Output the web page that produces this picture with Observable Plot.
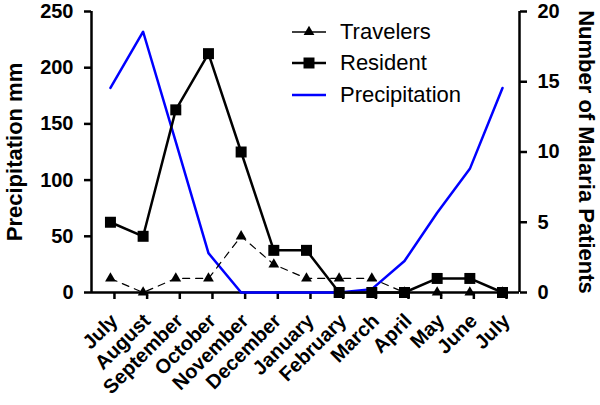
<!DOCTYPE html>
<html><head><meta charset="utf-8">
<script src="https://cdn.jsdelivr.net/npm/d3@7"></script>
<script src="https://cdn.jsdelivr.net/npm/@observablehq/plot@0.6"></script>
<style>
body{margin:0;background:#fff;font-family:"Liberation Sans",Arial,Helvetica,sans-serif;}
#wrap{position:relative;width:600px;height:405px;}
#legend{position:absolute;left:292px;top:16px;font-size:22px;color:#000;}
.row{display:flex;align-items:center;height:31.5px;}
.row svg{margin-right:14px;display:block}
</style></head><body>
<div id="wrap"><div id="chart"></div><div id="legend"></div></div>
<script>
const months = ["July","August","September","October","November","December","January","February","March","April","May","June","July"];
const precipitation = [182,232,134,35,0,0,0,0,3,28,71,110,182];
const resident = [5,4,13,17,10,3,3,0,0,0,1,1,0];
const travelers = [1,0,1,1,4,2,1,1,1,0,0,0,0];
const leftTicks = [0,50,100,150,200,250];
const rightTicks = [0,5,10,15,20];
const seriesNames = ["Travelers","Resident","Precipitation"];

const k = 250 / 20;
const xDomain = [-0.58, 12.52];
const data = months.map((m, i) => ({i, month: m, precip: precipitation[i], resident: resident[i], travelers: travelers[i]}));
const font = '"Liberation Sans", Arial, Helvetica, sans-serif';

const chart = Plot.plot({
  width: 600, height: 405,
  marginLeft: 91, marginRight: 81, marginTop: 11, marginBottom: 113,
  style: {fontFamily: font, background: "white", overflow: "visible"},
  x: {type: "linear", domain: xDomain},
  y: {domain: [0, 250]},
  marks: [
    Plot.axisY(leftTicks, {anchor: "left", tickSize: 7, tickPadding: 11, strokeWidth: 2.5, fontSize: 20, fontWeight: "bold", label: null}),
    Plot.axisY(rightTicks.map(d => d * k), {anchor: "right", tickFormat: d => d / k, tickSize: 7, tickPadding: 11, strokeWidth: 2.5, fontSize: 20, fontWeight: "bold", label: null}),
    Plot.axisX(d3.range(months.length), {tickFormat: i => months[i], tickRotate: -45, tickSize: 7, tickPadding: 18, dx: 4, strokeWidth: 2.5, fontSize: 20, fontWeight: "bold", label: null}),
    Plot.ruleY([0], {strokeWidth: 2.5}),
    Plot.ruleX(xDomain, {strokeWidth: 2.5}),
    Plot.line(data, {x: "i", y: "precip", stroke: "#0000ff", strokeWidth: 2.5}),
    Plot.line(data, {x: "i", y: d => d.travelers * k, stroke: "black", strokeWidth: 1.2, strokeDasharray: "7,6"}),
    Plot.dot(data, {x: "i", y: d => d.travelers * k, symbol: "triangle", r: 4, fill: "black"}),
    Plot.line(data, {x: "i", y: d => d.resident * k, stroke: "black", strokeWidth: 2.5}),
    Plot.dot(data, {x: "i", y: d => d.resident * k, symbol: "square", r: 6.2, fill: "black"}),
    Plot.text(["Precipitation mm"], {text: d => d, frameAnchor: "left", textAnchor: "middle", rotate: -90, dx: -77, fontSize: 22, fontWeight: "bold"}),
    Plot.text(["Number of Malaria Patients"], {text: d => d, frameAnchor: "right", textAnchor: "middle", rotate: 90, dx: 67, fontSize: 22, fontWeight: "bold"})
  ]
});
document.getElementById("chart").appendChild(chart);

const legend = d3.select("#legend");
const samples = [
  {stroke: "black", w: 1.3, sym: d3.symbolTriangle, size: 4 * 4 * Math.PI},
  {stroke: "black", w: 2.5, sym: d3.symbolSquare, size: 6.2 * 6.2 * Math.PI},
  {stroke: "#0000ff", w: 2.5, sym: null}
];
seriesNames.forEach((name, j) => {
  const row = legend.append("div").attr("class", "row");
  const s = row.append("svg").attr("width", 34).attr("height", 16);
  s.append("line").attr("x1", 0).attr("x2", 34).attr("y1", 8).attr("y2", 8).attr("stroke", samples[j].stroke).attr("stroke-width", samples[j].w);
  if (samples[j].sym) s.append("path").attr("transform", "translate(17,8)").attr("d", d3.symbol(samples[j].sym, samples[j].size)()).attr("fill", "black");
  row.append("span").text(name);
});
</script>
</body></html>
